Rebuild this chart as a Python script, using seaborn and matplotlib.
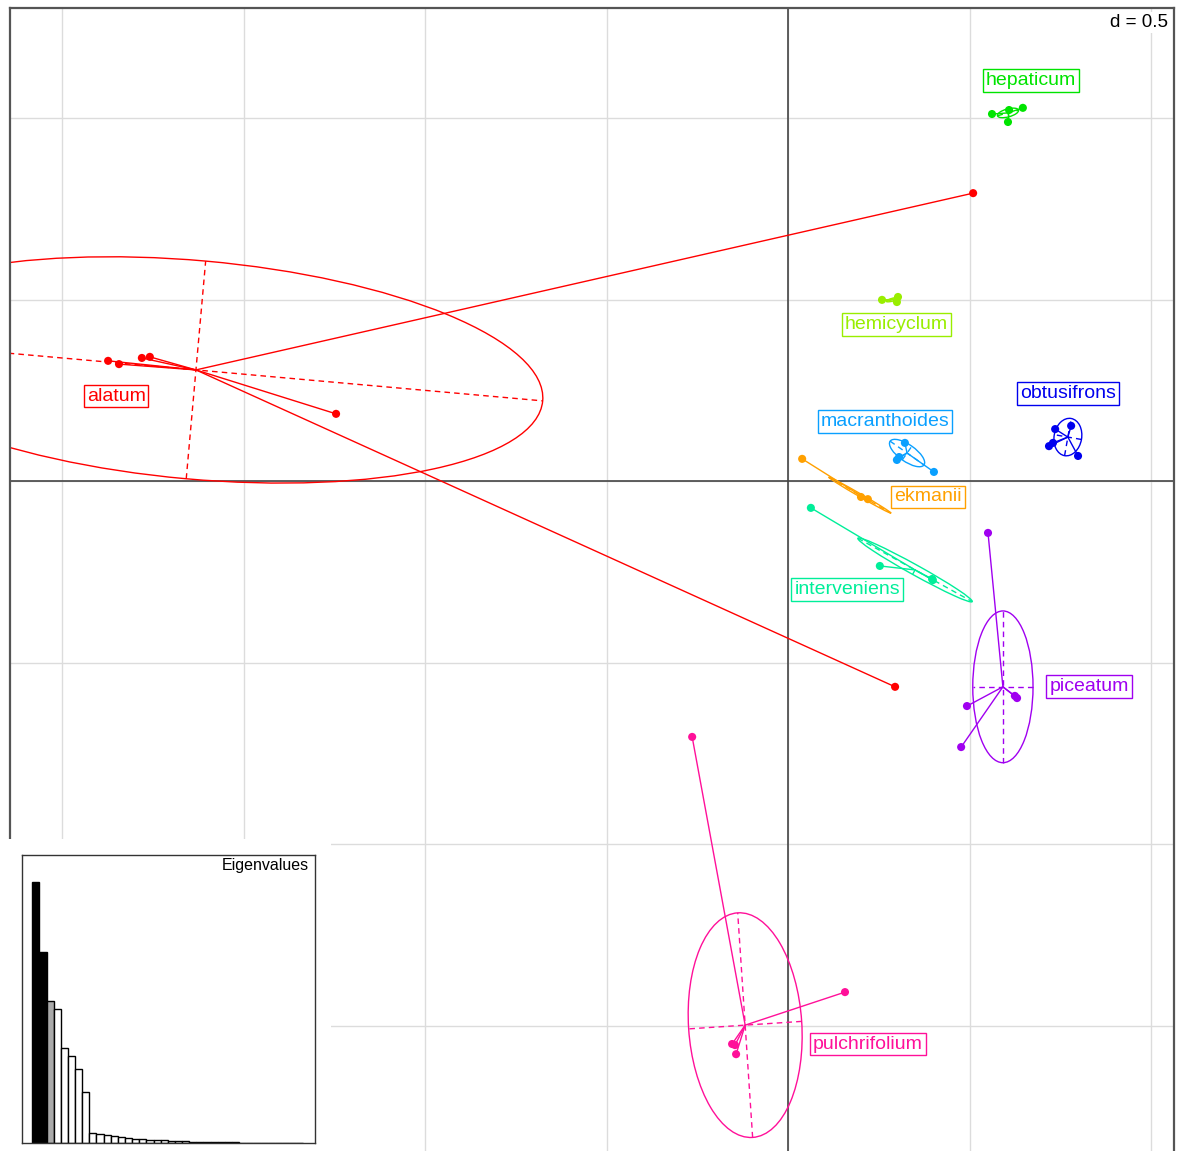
import numpy as np
import pandas as pd
import matplotlib
matplotlib.use("Agg")
import matplotlib.pyplot as plt
from matplotlib.patches import Ellipse, Rectangle
import seaborn as sns

# ---------------- data ----------------
groups = ["alatum", "hepaticum", "hemicyclum", "obtusifrons", "macranthoides",
          "ekmanii", "interveniens", "piceatum", "pulchrifolium"]
group_colors = ["#FF0000", "#00E400", "#99EE00", "#0000EE", "#0AA0FF",
                "#FFA000", "#00EE99", "#A000F0", "#FF1099"]

point_group = (["alatum"] * 7 + ["hepaticum"] * 4 + ["hemicyclum"] * 3 +
               ["obtusifrons"] * 5 + ["macranthoides"] * 4 + ["ekmanii"] * 3 +
               ["interveniens"] * 4 + ["piceatum"] * 5 + ["pulchrifolium"] * 5)
point_x = [-1.873, -1.843, -1.780, -1.758, -1.245, 0.510, 0.295,
           0.562, 0.647, 0.606, 0.609,
           0.259, 0.303, 0.300,
           0.736, 0.780, 0.799, 0.719, 0.730,
           0.322, 0.402, 0.300, 0.306,
           0.039, 0.201, 0.220,
           0.063, 0.253, 0.397, 0.399,
           0.551, 0.493, 0.477, 0.625, 0.631,
           -0.264, 0.157, -0.154, -0.143, -0.146]
point_y = [0.331, 0.322, 0.339, 0.342, 0.185, 0.793, -0.567,
           1.011, 1.028, 0.989, 1.022,
           0.499, 0.507, 0.493,
           0.143, 0.152, 0.069, 0.096, 0.105,
           0.105, 0.025, 0.058, 0.066,
           0.061, -0.044, -0.050,
           -0.074, -0.234, -0.270, -0.273,
           -0.143, -0.620, -0.733, -0.592, -0.598,
           -0.705, -1.408, -1.551, -1.579, -1.554]

center_x = [-1.631, 0.606, 0.290, 0.771, 0.328, 0.198, 0.350, 0.592, -0.118]
center_y = [0.306, 1.014, 0.500, 0.121, 0.077, -0.039, -0.245, -0.567, -1.499]

# ellipse semi-axes and orientation (degrees)
ell_a = [0.959, 0.030, 0.020, 0.052, 0.057, 0.099, 0.180, 0.209, 0.310]
ell_b = [0.301, 0.011, 0.004, 0.038, 0.023, 0.004, 0.014, 0.083, 0.156]
ell_angle = [-5.1, 15, 15, 80, -35, -30, -29, 90, 93.8]

eigenvalues = [785, 575, 428, 403, 285, 260, 222, 153, 30, 26, 24, 22, 18, 15,
               13, 11, 10, 9, 8, 7, 6, 5, 4.5, 4, 3.5, 3, 2.5, 2, 1.7, 1.4,
               1.1, 0.9, 0.7, 0.5, 0.4, 0.3, 0.2, 0.1]

# ---------------- layout ----------------
label_pos = {
    "alatum": (-1.851, 0.234), "hepaticum": (0.669, 1.103),
    "hemicyclum": (0.298, 0.430), "obtusifrons": (0.771, 0.240),
    "macranthoides": (0.267, 0.165), "ekmanii": (0.386, -0.044),
    "interveniens": (0.163, -0.298), "piceatum": (0.829, -0.565),
    "pulchrifolium": (0.220, -1.551),
}

W, H = 1178, 1151
sns.set_theme(style="white")
plt.rcParams["font.family"] = ["Liberation Sans", "DejaVu Sans"]

fig = plt.figure(figsize=(W / 100, H / 100), dpi=100)
fig.patch.set_facecolor("white")

# main axes in pixel terms
ax_l, ax_r, ax_t, ax_b = 10, 1174, 8, 1156
ax = fig.add_axes([ax_l / W, (H - ax_b) / H, (ax_r - ax_l) / W, (ax_b - ax_t) / H])
ax.set_zorder(0)
ppu = 363.0
x0, y0 = 788, 481
ax.set_xlim((ax_l - x0) / ppu, (ax_r - x0) / ppu)
ax.set_ylim((y0 - ax_b) / ppu, (y0 - ax_t) / ppu)
ax.set_xticks([]); ax.set_yticks([])
for s in ax.spines.values():
    s.set_color("#555555"); s.set_linewidth(1.6)

for gx in np.arange(-2.0, 1.01, 0.5):
    ax.axvline(gx, color="#DCDCDC", lw=1.0, zorder=0)
for gy in np.arange(-1.5, 1.01, 0.5):
    ax.axhline(gy, color="#DCDCDC", lw=1.0, zorder=0)
ax.axvline(0, color="#444444", lw=1.2, zorder=1)
ax.axhline(0, color="#444444", lw=1.2, zorder=1)

df = pd.DataFrame({"group": point_group, "x": point_x, "y": point_y})
pal = dict(zip(groups, group_colors))

for i, g in enumerate(groups):
    col = group_colors[i]
    cx, cy = center_x[i], center_y[i]
    a, b, ang = ell_a[i], ell_b[i], ell_angle[i]
    ax.add_patch(Ellipse((cx, cy), 2 * a, 2 * b, angle=ang, fill=False,
                         ec=col, lw=1.0, zorder=2))
    t = np.deg2rad(ang)
    ux, uy = np.cos(t), np.sin(t)
    vx, vy = -np.sin(t), np.cos(t)
    ax.plot([cx - a * ux, cx + a * ux], [cy - a * uy, cy + a * uy],
            color=col, lw=1.0, ls=(0, (4, 3)), zorder=2)
    ax.plot([cx - b * vx, cx + b * vx], [cy - b * vy, cy + b * vy],
            color=col, lw=1.0, ls=(0, (4, 3)), zorder=2)
    sub = df[df.group == g]
    for px, py in zip(sub.x, sub.y):
        ax.plot([cx, px], [cy, py], color=col, lw=1.0, zorder=3)

sns.scatterplot(data=df, x="x", y="y", hue="group", palette=pal, s=34,
                edgecolor="none", linewidth=0, legend=False, ax=ax, zorder=4)
ax.set_xlabel(""); ax.set_ylabel("")

for i, g in enumerate(groups):
    col = group_colors[i]
    lx, ly = label_pos[g]
    ax.text(lx, ly, g, color=col, fontsize=14, ha="center", va="center",
            zorder=6,
            bbox=dict(boxstyle="square,pad=0.15", fc="white", ec=col, lw=1.0))

ax.text(0.995, 0.995, "d = 0.5", transform=ax.transAxes, ha="right", va="top",
        fontsize=13.5, color="black", zorder=7,
        bbox=dict(boxstyle="square,pad=0.1", fc="white", ec="none"))

# white background for inset
fig.patches.append(Rectangle((0, 0), 331 / W, (H - 839) / H, transform=fig.transFigure,
                             fc="white", ec="none", zorder=1))

# eigenvalue inset
il, ir, it, ib = 22, 315, 855, 1143
iax = fig.add_axes([il / W, (H - ib) / H, (ir - il) / W, (ib - it) / H])
iax.set_zorder(2)
n = len(eigenvalues)
eig_df = pd.DataFrame({"k": [str(k) for k in range(n)], "v": eigenvalues})
bar_cols = ["black", "black", "#AAAAAA"] + ["white"] * (n - 3)
sns.barplot(data=eig_df, x="k", y="v", hue="k", palette=bar_cols, legend=False,
            edgecolor="black", linewidth=1.0, width=1.0, ax=iax)
bw = 271.0 / n
iax.set_xlim(-0.5 - (32.3 - il) / bw, n - 0.5 + (ir - 303.3) / bw)
iax.set_ylim(0, eigenvalues[0] * 288 / 261.3)
iax.set_xticks([]); iax.set_yticks([])
iax.set_xlabel(""); iax.set_ylabel("")
iax.set_facecolor("white")
for s in iax.spines.values():
    s.set_color("#333333"); s.set_linewidth(1.0)
iax.text(0.98, 0.99, "Eigenvalues", transform=iax.transAxes, ha="right",
         va="top", fontsize=11.5, color="black")

fig.savefig("out.png", dpi=100, facecolor="white")
